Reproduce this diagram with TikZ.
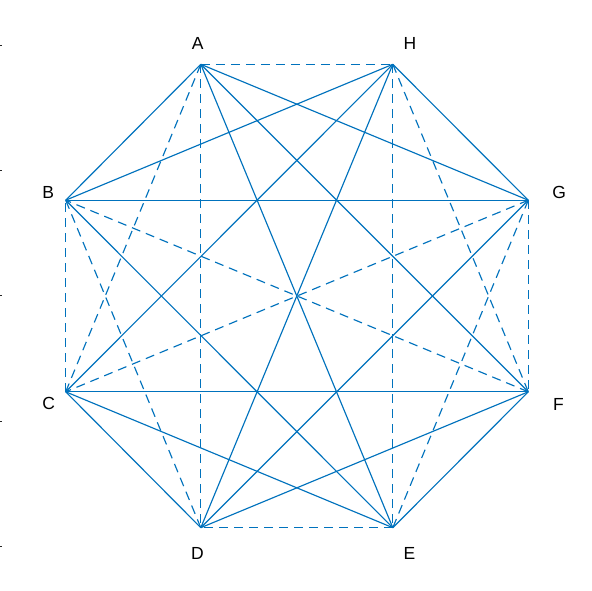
\documentclass[tikz,border=0pt]{standalone}
\usepackage{fontspec}
\setmainfont{Liberation Sans}
\definecolor{mblue}{RGB}{0,114,189}
\begin{document}
\begin{tikzpicture}[x=1pt,y=-1pt,
  edge/.style={draw=mblue,line width=1.15pt},
  dedge/.style={edge,dash pattern=on 9pt off 6pt},
  lbl/.style={font=\fontsize{17.5}{20}\selectfont,inner sep=0pt},
  tick/.style={draw=black!85,line width=1pt}]
\useasboundingbox (0,0) rectangle (592,591);
\fill[white] (0,0) rectangle (592,591);
% vertices
\coordinate (A) at (200.8,64.3);
\coordinate (H) at (392.8,64.3);
\coordinate (G) at (528.3,200.2);
\coordinate (F) at (528.3,391.8);
\coordinate (E) at (392.8,527.7);
\coordinate (D) at (200.8,527.7);
\coordinate (C) at (65.7,391.8);
\coordinate (B) at (65.7,200.2);
% labels
\node[lbl] (lA) at (197.8,43.7) {A};
\node[lbl] (lH) at (410,43.7) {H};
\node[lbl] (lG) at (559.3,192.7) {G};
\node[lbl] (lF) at (558.5,404) {F};
\node[lbl] (lE) at (409.5,553.3) {E};
\node[lbl] (lD) at (197.5,553.3) {D};
\node[lbl] (lC) at (48.8,403.5) {C};
\node[lbl] (lB) at (48.3,192.7) {B};
% solid edges
\foreach \u/\v in {H/G,F/E,D/C,B/A,A/G,F/D,E/C,B/H,A/F,H/D,H/C,G/D,F/C,E/B,A/E,B/G}
  \draw[edge] (\u) -- (\v);
% dashed edges
\foreach \u/\v in {A/H,G/F,E/D,C/B,H/F,G/E,D/B,C/A,A/D,H/E,G/C,F/B}
  \draw[dedge] (\u) -- (\v);
% axis ticks
\foreach \y [count=\i] in {45.3,170.6,295.9,421.2,546.5}
  \draw[tick] (0,\y) coordinate (t\i a) -- (2.3,\y) coordinate (t\i b);
\end{tikzpicture}
\end{document}
